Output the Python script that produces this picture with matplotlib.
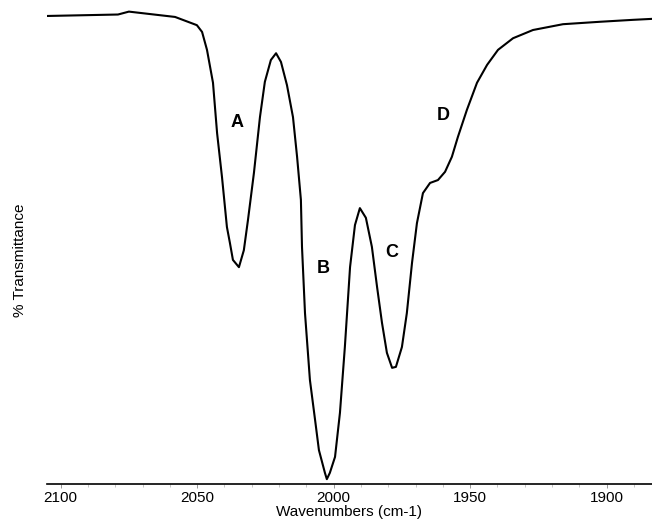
import matplotlib
matplotlib.use("Agg")
import matplotlib.pyplot as plt
from matplotlib.ticker import MultipleLocator

plt.rcParams["font.family"] = ["Liberation Sans", "DejaVu Sans"]

# IR spectrum (wavenumber in cm-1, % transmittance)
wavenumber = [
    2105.0, 2079.0, 2075.0, 2058.1, 2050.1, 2048.2, 2046.4, 2044.2, 2042.7,
    2040.9, 2039.1, 2038.0, 2036.9, 2034.7, 2032.9, 2031.4, 2029.2, 2027.0,
    2025.2, 2023.0, 2021.1, 2019.3, 2017.1, 2014.9, 2013.4, 2012.0, 2011.6,
    2010.5, 2008.7, 2006.8, 2005.4, 2003.2, 2002.5, 2001.4, 1999.5, 1997.7,
    1995.9, 1994.0, 1992.2, 1990.4, 1988.2, 1986.0, 1984.1, 1982.3, 1980.5,
    1978.6, 1977.2, 1975.0, 1973.2, 1971.3, 1969.5, 1967.3, 1964.7, 1961.8,
    1959.2, 1956.7, 1954.5, 1951.2, 1947.5, 1943.8, 1939.8, 1934.3, 1927.0,
    1916.0, 1902.5, 1890.4, 1883.4,
]
transmittance = [
    96.7, 97.0, 97.6, 96.5, 94.8, 93.4, 89.7, 82.9, 72.5,
    63.4, 53.1, 49.8, 46.3, 44.8, 48.3, 54.5, 64.3, 75.8,
    83.1, 87.6, 89.0, 87.2, 82.4, 75.8, 67.6, 58.7, 49.0,
    35.3, 21.5, 13.2, 7.0, 2.3, 1.0, 2.3, 5.6, 14.7,
    28.3, 44.8, 53.5, 57.0, 55.0, 49.0, 40.7, 33.3, 27.1,
    24.0, 24.2, 28.3, 35.3, 45.7, 53.9, 60.1, 62.2, 62.8,
    64.5, 67.6, 71.7, 77.3, 82.9, 86.6, 89.7, 92.1, 93.8,
    95.0, 95.5, 95.9, 96.1,
]

band_labels = ["A", "B", "C", "D"]
band_x = [2035.4, 2003.9, 1978.6, 1960.0]
band_y = [74.6, 44.6, 47.9, 76.2]

fig = plt.figure(figsize=(6.52, 5.21), dpi=100)
ax = fig.add_axes([47 / 652, 37 / 521, 605 / 652, 484 / 521])

ax.plot(wavenumber, transmittance, color="black", linewidth=1.5)

for lab, x, y in zip(band_labels, band_x, band_y):
    ax.text(x, y, lab, fontsize=13, fontweight="bold", ha="center", va="center")

ax.set_xlim(2105.0, 1883.4)
ax.set_ylim(0, 100)

for side in ("top", "right", "left"):
    ax.spines[side].set_visible(False)
ax.spines["bottom"].set_linewidth(1.2)
ax.set_yticks([])
ax.xaxis.set_major_locator(MultipleLocator(50))
ax.xaxis.set_minor_locator(MultipleLocator(10))
ax.tick_params(axis="x", which="major", length=3, width=0.6, labelsize=11, pad=2, color="#888888")
ax.tick_params(axis="x", which="minor", length=2, width=0.6, color="#bbbbbb")

ax.set_xlabel("Wavenumbers (cm-1)", fontsize=11, labelpad=0)
ax.set_ylabel("% Transmittance", fontsize=11)
ax.yaxis.set_label_coords(-0.033, 0.463)

fig.savefig("out.png", dpi=100)
